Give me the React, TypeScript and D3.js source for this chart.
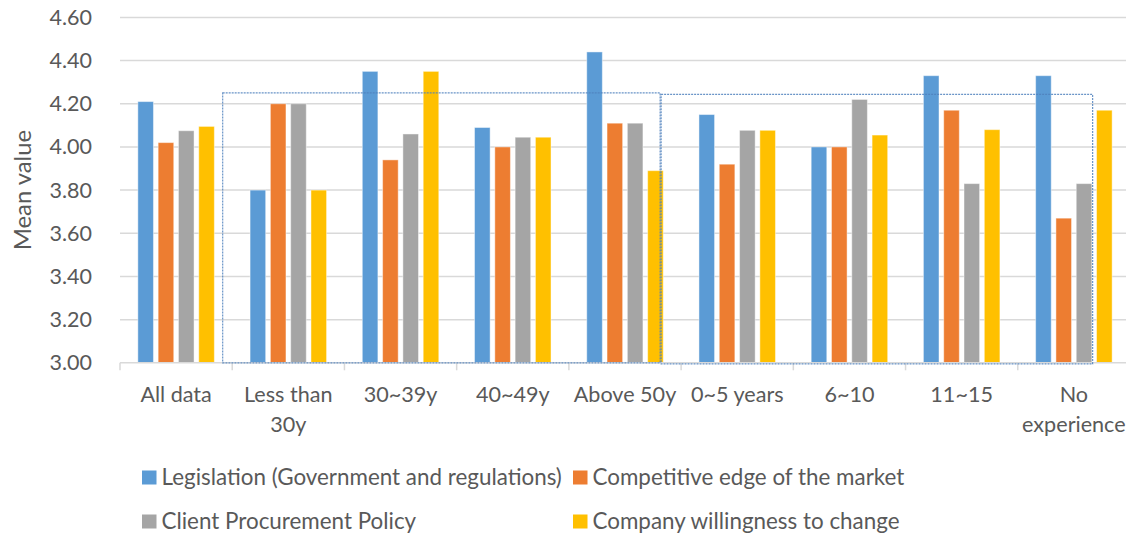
import React from "react";
import * as d3 from "d3";

const categories = [
  "All data",
  "Less than\n30y",
  "30~39y",
  "40~49y",
  "Above 50y",
  "0~5 years",
  "6~10",
  "11~15",
  "No\nexperience",
];

const seriesNames = [
  "Legislation (Government and regulations)",
  "Competitive edge of the market",
  "Client Procurement Policy",
  "Company willingness to change",
];

const legislation = [4.21, 3.8, 4.35, 4.09, 4.44, 4.15, 4.0, 4.33, 4.33];
const competitive = [4.02, 4.2, 3.94, 4.0, 4.11, 3.92, 4.0, 4.17, 3.67];
const procurement = [4.075, 4.2, 4.06, 4.045, 4.11, 4.077, 4.22, 3.83, 3.83];
const willingness = [4.095, 3.8, 4.35, 4.045, 3.89, 4.077, 4.055, 4.08, 4.17];

const seriesColors = ["#5B9BD5", "#ED7D31", "#A5A5A5", "#FFC000"];
const yTicks = [3.0, 3.2, 3.4, 3.6, 3.8, 4.0, 4.2, 4.4, 4.6];

// Dotted highlight frames, in category units (0 = left edge of the first group)
const frames = [
  { from: 0.915, to: 4.813, top: 4.25, bottom: 3.0 },
  { from: 4.822, to: 8.667, top: 4.243, bottom: 2.995 },
];

const W = 1126;
const H = 536;
const FONT = "Lato, 'Open Sans', sans-serif";
const TEXT = "#595959";

export default function App() {
  const values = [legislation, competitive, procurement, willingness];

  const plotLeft = 120;
  const plotRight = 1130;
  const y = d3.scaleLinear().domain([3.0, 4.6]).range([362.8, 17.4]);
  const x = d3.scaleBand<string>().domain(categories).range([plotLeft, plotRight]).padding(0);
  const inner = d3
    .scaleBand<number>()
    .domain([0, 1, 2, 3])
    .range([17.85, 17.85 + 76.5])
    .paddingInner(0.2315)
    .paddingOuter(0);
  const catUnits = d3.scaleLinear().domain([0, categories.length]).range([plotLeft, plotRight]);

  const legendRows = [
    { x: 142, y: 470.5 },
    { x: 573, y: 470.5 },
    { x: 142, y: 514.5 },
    { x: 573, y: 514.5 },
  ];

  return (
    <div style={{ position: "absolute", left: 0, top: 0 }}>
      <svg width={W} height={H} style={{ display: "block", background: "#fff" }} fontFamily={FONT}>
        {/* grid lines */}
        {yTicks.slice(1).map((t) => (
          <line
            key={t}
            x1={plotLeft}
            x2={plotRight}
            y1={y(t)}
            y2={y(t)}
            stroke="#D9D9D9"
            strokeWidth={1.5}
          />
        ))}
        {/* y tick labels */}
        {yTicks.map((t) => (
          <text
            key={t}
            x={92}
            y={y(t)}
            dy="0.35em"
            textAnchor="end"
            fontSize={21.5}
            fill={TEXT}
          >
            {t.toFixed(2)}
          </text>
        ))}
        {/* y axis title */}
        <text
          transform={`translate(31,${(y(3.0) + y(4.6)) / 2}) rotate(-90)`}
          textAnchor="middle"
          fontSize={23.8}
          fill={TEXT}
        >
          Mean value
        </text>

        {/* bars */}
        {categories.map((c, ci) => (
          <g key={c} transform={`translate(${x(c)},0)`}>
            {values.map((vals, si) => (
              <rect
                key={si}
                x={inner(si)}
                y={y(vals[ci])}
                width={inner.bandwidth()}
                height={y(3.0) - y(vals[ci])}
                fill={seriesColors[si]}
                stroke="#ffffff"
                strokeOpacity={0.45}
                strokeWidth={1}
              />
            ))}
          </g>
        ))}

        {/* category axis */}
        <line x1={plotLeft} x2={plotRight} y1={y(3.0)} y2={y(3.0)} stroke="#D9D9D9" strokeWidth={1.5} />
        {d3.range(categories.length + 1).map((i) => (
          <line
            key={i}
            x1={catUnits(i)}
            x2={catUnits(i)}
            y1={y(3.0)}
            y2={y(3.0) + 7.5}
            stroke="#D9D9D9"
            strokeWidth={1.5}
          />
        ))}
        {categories.map((c) => (
          <text
            key={c}
            x={(x(c) as number) + x.bandwidth() / 2}
            y={401.5}
            textAnchor="middle"
            fontSize={21.6}
            fill={TEXT}
          >
            {c.split("\n").map((line, li) => (
              <tspan key={li} x={(x(c) as number) + x.bandwidth() / 2} dy={li === 0 ? 0 : 30}>
                {line}
              </tspan>
            ))}
          </text>
        ))}

        {/* dotted highlight frames */}
        {frames.map((f, i) => (
          <rect
            key={i}
            x={catUnits(f.from)}
            y={y(f.top)}
            width={catUnits(f.to) - catUnits(f.from)}
            height={y(f.bottom) - y(f.top)}
            fill="none"
            stroke="#4F81BD"
            strokeWidth={1.2}
            strokeDasharray="2,1"
            opacity={0.85}
          />
        ))}

        {/* legend */}
        {seriesNames.map((name, i) => (
          <g key={name} transform={`translate(${legendRows[i].x},${legendRows[i].y})`}>
            <rect x={0} y={0} width={14.5} height={14} fill={seriesColors[i]} />
            <text x={19.5} y={7} dy="0.35em" fontSize={22.4} fill={TEXT}>
              {name}
            </text>
          </g>
        ))}
      </svg>
    </div>
  );
}
